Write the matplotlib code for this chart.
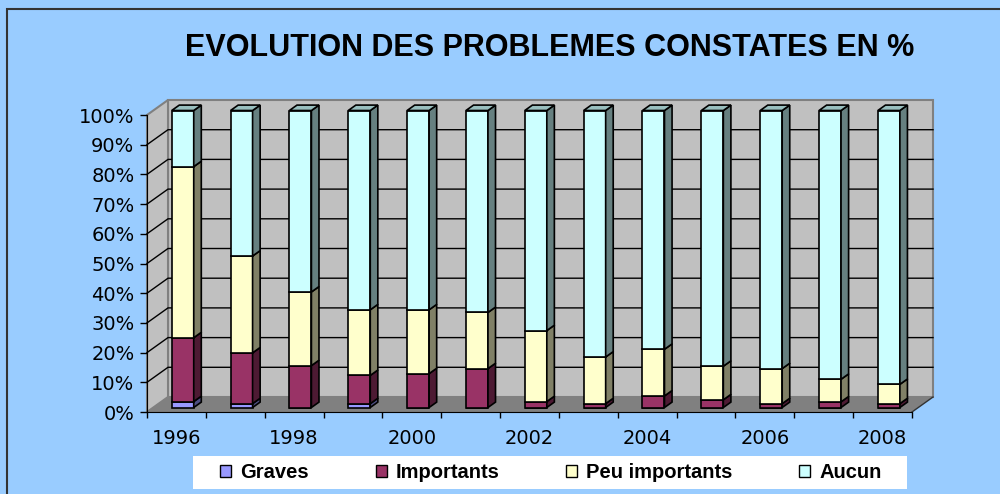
import numpy as np
import matplotlib.pyplot as plt
from matplotlib.patches import Patch, Rectangle
import matplotlib.colors as mc

# donnees (en %)
annees = [1996, 1997, 1998, 1999, 2000, 2001, 2002, 2003, 2004, 2005, 2006, 2007, 2008]
graves = [2.0, 1.3, 0.0, 1.3, 0.0, 0.0, 0.0, 0.0, 0.0, 0.0, 0.0, 0.0, 0.0]
importants = [21.5, 17.1, 14.1, 9.5, 11.4, 13.1, 2.0, 1.3, 3.9, 2.6, 1.3, 1.9, 1.3]
peu_importants = [57.6, 32.6, 24.8, 22.1, 21.5, 18.9, 23.9, 15.7, 15.7, 11.3, 11.8, 7.6, 6.5]
aucun = [18.9, 49.0, 61.1, 67.1, 67.1, 68.0, 74.1, 83.0, 80.4, 86.1, 86.9, 90.5, 92.2]

series = [graves, importants, peu_importants, aucun]
noms = ['Graves', 'Importants', 'Peu importants', 'Aucun']
couleurs = ['#9999FF', '#993366', '#FFFFCC', '#CCFFFF']


def shade(c, f):
    r, g, b = mc.to_rgb(c)
    return (r * f, g * f, b * f)


n = len(annees)
DX, DY = 0.357, 5.05      # profondeur du "3D" en unites de donnees
d0, d1 = 0.30, 0.66       # position des barres dans la profondeur
w = 0.374

fig = plt.figure(figsize=(10, 4.94), dpi=100)
fig.patch.set_facecolor('#99CCFF')
fig.patches.append(Rectangle((0.007, -0.1), 1.1, 1.1 - 9 / 494, transform=fig.transFigure,
                             facecolor='none', edgecolor='#333333', lw=1.5))

ax = fig.add_axes([0.147, (494 - 412) / 494, 0.765, 297 / 494])
ax.set_xlim(0, n)
ax.set_ylim(0, 100)
ax.patch.set_visible(False)

# murs et sol
ax.fill([DX, n + DX, n + DX, DX], [DY, DY, 100 + DY, 100 + DY], fc='#C0C0C0',
        ec='#808080', lw=1.5, clip_on=False, zorder=0)
ax.fill([0, DX, DX, 0], [0, DY, 100 + DY, 100], fc='#C0C0C0', ec='#808080',
        lw=1.5, clip_on=False, zorder=0)
ax.fill([0, n, n + DX, DX], [0, 0, DY, DY], fc='#808080', ec='none', clip_on=False, zorder=0)
for v in range(10, 100, 10):
    ax.plot([0, DX, n + DX], [v, v + DY, v + DY], color='black', lw=1, clip_on=False, zorder=1)
ax.plot([n, n + DX], [0, DY], color='#333333', lw=1, clip_on=False, zorder=1)

# barres empilees
x = np.arange(n) + 0.5 + d0 * DX
ddx, ddy = (d1 - d0) * DX, (d1 - d0) * DY
bas = np.zeros(n)
for k, (vals, c) in enumerate(zip(series, couleurs)):
    vals = np.array(vals)
    ax.bar(x, vals, width=w, bottom=bas + d0 * DY, color=c, edgecolor='black',
           lw=1.2, zorder=3, clip_on=False)
    for i in range(n):
        if vals[i] <= 0:
            continue
        xr = x[i] + w / 2
        b = bas[i] + d0 * DY
        t = b + vals[i]
        ax.fill([xr, xr + ddx, xr + ddx, xr], [b, b + ddy, t + ddy, t], fc=shade(c, 0.5),
                ec='black', lw=1.2, zorder=3, clip_on=False)
        if k == len(series) - 1:
            xl = x[i] - w / 2
            ax.fill([xl, xr, xr + ddx, xl + ddx], [t, t, t + ddy, t + ddy], fc=shade(c, 0.75),
                    ec='black', lw=1.2, zorder=3, clip_on=False)
    bas = bas + vals

# axes
for s in ['top', 'right']:
    ax.spines[s].set_visible(False)
ax.spines['left'].set_zorder(2)
ax.spines['bottom'].set_zorder(2)
ax.set_yticks(range(0, 101, 10))
ax.set_yticklabels([f'{v}%' for v in range(0, 101, 10)], fontsize=14)
ax.tick_params(axis='y', length=5, width=1, pad=4)
ax.set_xticks(range(0, n + 1))
ax.set_xticklabels([])
ax.tick_params(axis='x', which='major', length=4, width=1)
ax.set_xticks(np.arange(0, n, 2) + 0.5, minor=True)
ax.set_xticklabels([str(a) for a in annees[::2]], minor=True, fontsize=14)
ax.tick_params(axis='x', which='minor', length=0, pad=12)

fig.text(0.55, 1 - 48 / 494, 'EVOLUTION DES PROBLEMES CONSTATES EN %', ha='center', va='center',
         fontsize=22, fontweight='bold', family='Liberation Sans')

# legende
fig.patches.append(Rectangle((0.193, 1 - 489 / 494), 0.714, 33 / 494, transform=fig.transFigure,
                             facecolor='white', edgecolor='none'))
handles = [Patch(facecolor=c, edgecolor='black', lw=1, label=nm) for c, nm in zip(couleurs, noms)]
leg = fig.legend(handles=handles, loc='center', bbox_to_anchor=(0.551, 1 - 472.5 / 494), ncol=4,
                 frameon=False, handlelength=0.55, handleheight=0.6, handletextpad=0.45,
                 columnspacing=3.3, prop={'family': 'Liberation Sans', 'weight': 'bold', 'size': 14.5})

fig.savefig('out.png', dpi=100, facecolor=fig.get_facecolor())
